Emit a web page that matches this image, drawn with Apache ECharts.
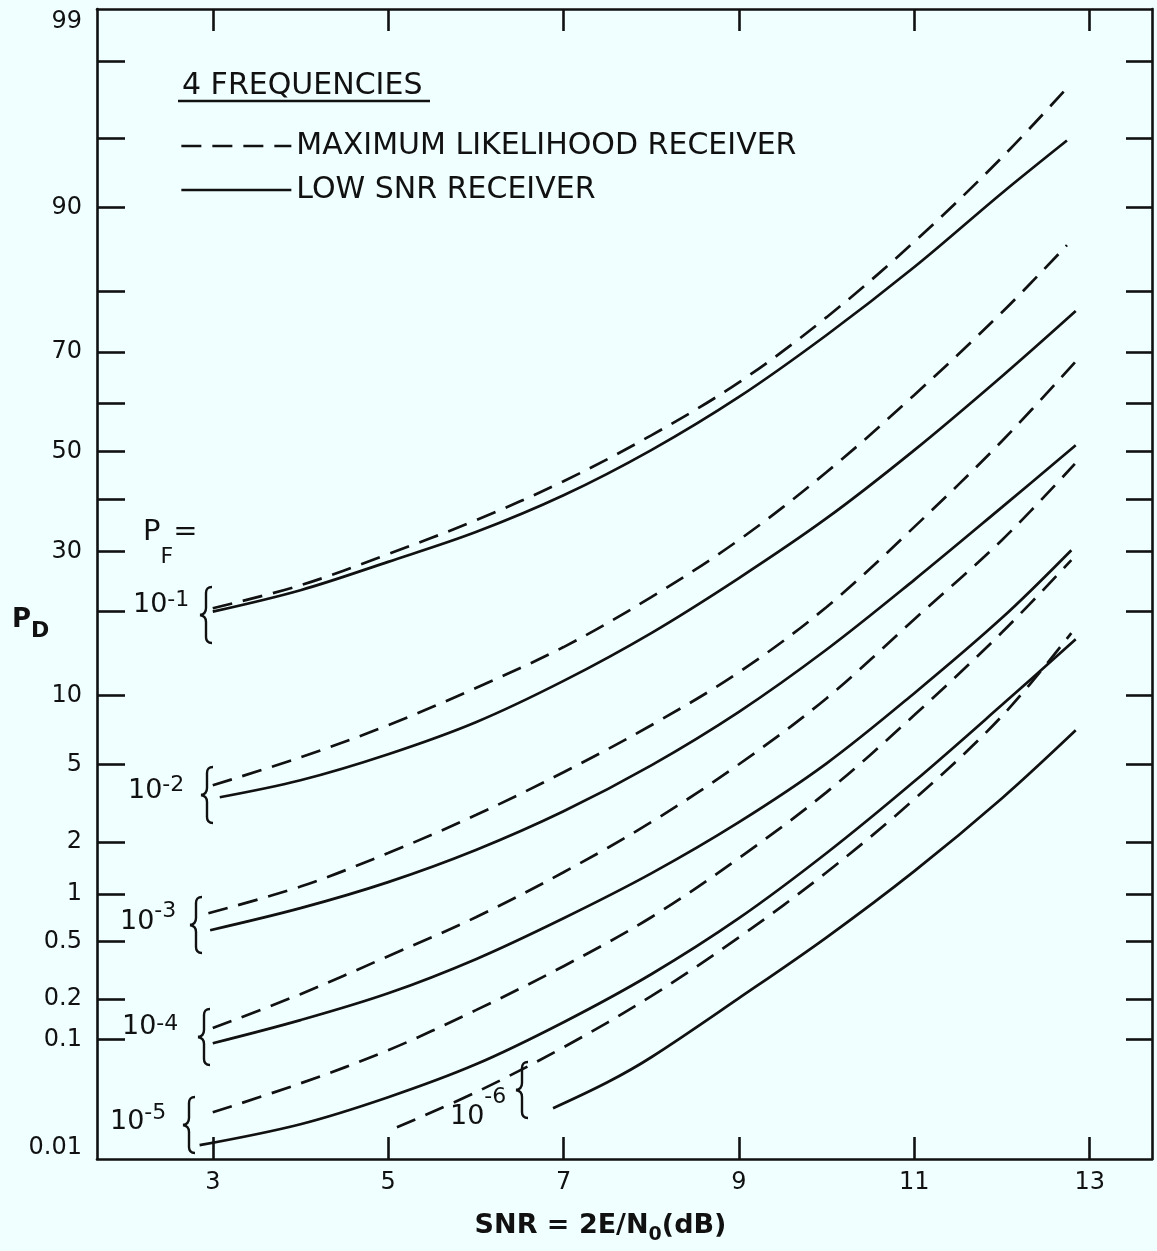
<!DOCTYPE html>
<html>
<head>
<meta charset="utf-8">
<script src="https://cdn.jsdelivr.net/npm/echarts@6/dist/echarts.min.js"></script>
<style>
html,body{margin:0;padding:0;background:#f0ffff;}
#chart{width:1157px;height:1251px;}
</style>
</head>
<body>
<div id="chart"></div>
<script>
// ---------- DATA (SNR in dB, PD in percent) ----------
// P_F = 10^-1
const snrML1 = [3, 4, 5, 6, 7, 8, 9, 10, 11, 12, 12.74];
const pdML1  = [20.5, 24.1, 29.5, 35.9, 43.8, 53.4, 64.2, 76.0, 86.5, 93.9, 97.2];
const snrLS1 = [3, 4, 5, 6, 7, 8, 9, 10, 11, 12, 12.74];
const pdLS1  = [20.0, 23.3, 28.1, 33.6, 40.9, 50.3, 61.3, 73.0, 83.4, 91.3, 94.9];
// P_F = 10^-2
const snrML2 = [3, 4, 5, 6, 7, 8, 9, 10, 11, 12, 12.74];
const pdML2  = [3.97, 5.40, 7.51, 10.7, 15.2, 22.2, 32.1, 45.7, 61.7, 76.8, 86.1];
const snrLS2 = [3.08, 4, 5, 6, 7, 8, 9, 10, 11, 12, 12.84];
const pdLS2  = [3.46, 4.20, 5.58, 7.74, 11.4, 17.0, 25.3, 36.3, 50.3, 65.4, 77.0];
// P_F = 10^-3
const snrML3 = [2.95, 4, 5, 6, 7, 8, 9, 10, 11, 12, 12.85];
const pdML3  = [0.761, 1.11, 1.74, 2.80, 4.59, 7.51, 12.3, 20.7, 34.6, 52.2, 68.4];
const snrLS3 = [2.97, 4, 5, 6, 7, 8, 9, 10, 11, 12, 12.84];
const pdLS3  = [0.593, 0.819, 1.18, 1.81, 2.93, 4.95, 8.56, 14.9, 25.0, 38.5, 51.3];
// P_F = 10^-4
const snrML4 = [3, 4, 5, 6, 7, 8, 9, 10, 11, 12, 12.83];
const pdML4  = [0.122, 0.217, 0.399, 0.718, 1.35, 2.57, 5.01, 9.74, 18.9, 32.1, 47.4];
const snrLS4 = [3, 4, 5, 6, 7, 8, 9, 10, 11, 12, 12.79];
const pdLS4  = [0.0934, 0.140, 0.220, 0.381, 0.708, 1.33, 2.57, 5.06, 10.2, 19.1, 30.2];
// P_F = 10^-5
const snrML5 = [3, 4, 5, 6, 7, 8, 9, 10, 11, 12, 12.79];
const pdML5  = [0.0257, 0.0448, 0.0824, 0.166, 0.341, 0.718, 1.63, 3.67, 8.30, 17.1, 28.4];
const snrLS5 = [2.85, 4, 5, 6, 7, 8, 9, 10, 11, 12, 12.84];
const pdLS5  = [0.0133, 0.0203, 0.0344, 0.0638, 0.135, 0.300, 0.708, 1.74, 4.15, 9.15, 16.2];
// P_F = 10^-6
const snrML6 = [5.1, 6, 7, 8, 9, 10, 11, 12, 12.79];
const pdML6  = [0.0191, 0.0378, 0.0869, 0.210, 0.533, 1.35, 3.38, 8.22, 17.0];
const snrLS6 = [6.88, 7.5, 8, 9, 10, 11, 12, 12.84];
const pdLS6  = [0.0278, 0.0457, 0.0726, 0.203, 0.533, 1.37, 3.42, 7.14];

// axis ticks
const xTicks = [3, 5, 7, 9, 11, 13];
const yTickLabels = [99, 90, 70, 50, 30, 10, 5, 2, 1, 0.5, 0.2, 0.1, 0.01];
const yMinorTicks = [98, 95, 80, 60, 40, 20];
const pfExponents = ['-1', '-2', '-3', '-4', '-5', '-6'];
const legendNames = ['MAXIMUM LIKELIHOOD RECEIVER', 'LOW SNR RECEIVER'];

// ---------- normal-probability scale (probit) ----------
function probit(p) {
  const a=[-3.969683028665376e+01,2.209460984245205e+02,-2.759285104469687e+02,1.383577518672690e+02,-3.066479806614716e+01,2.506628277459239e+00];
  const b=[-5.447609879822406e+01,1.615858368580409e+02,-1.556989798598866e+02,6.680131188771972e+01,-1.328068155288572e+01];
  const c=[-7.784894002430293e-03,-3.223964580411365e-01,-2.400758277161838e+00,-2.549671348243961e+00,4.374664141464968e+00,2.938163982698783e+00];
  const d=[7.784695709041462e-03,3.224671290700398e-01,2.445134137142996e+00,3.754408661907416e+00];
  const pl = 0.02425, ph = 1 - pl;
  let q, r;
  if (p < pl) { q = Math.sqrt(-2*Math.log(p)); return (((((c[0]*q+c[1])*q+c[2])*q+c[3])*q+c[4])*q+c[5])/((((d[0]*q+d[1])*q+d[2])*q+d[3])*q+1); }
  if (p <= ph) { q = p - 0.5; r = q*q; return (((((a[0]*r+a[1])*r+a[2])*r+a[3])*r+a[4])*r+a[5])*q/(((((b[0]*r+b[1])*r+b[2])*r+b[3])*r+b[4])*r+1); }
  q = Math.sqrt(-2*Math.log(1-p)); return -(((((c[0]*q+c[1])*q+c[2])*q+c[3])*q+c[4])*q+c[5])/((((d[0]*q+d[1])*q+d[2])*q+d[3])*q+1);
}
const zOf = pct => probit(pct / 100);
const yMin = zOf(0.01), yMax = zOf(99);

const FONT = 'DejaVu Sans';
const INK = '#111';

function lineSeries(name, xs, pds, dashed) {
  return {
    type: 'line', name,
    data: xs.map((x, i) => [x, zOf(pds[i])]),
    smooth: 0.35,
    symbol: 'none', showSymbol: false,
    lineStyle: { color: INK, width: 2.7, type: dashed ? [20, 11] : 'solid' },
    itemStyle: { color: INK },
    emphasis: { disabled: true }, silent: true, z: 3
  };
}
const ML = legendNames[0], LS = legendNames[1];
const series = [
  lineSeries(ML, snrML1, pdML1, true),  lineSeries(LS, snrLS1, pdLS1, false),
  lineSeries(ML, snrML2, pdML2, true),  lineSeries(LS, snrLS2, pdLS2, false),
  lineSeries(ML, snrML3, pdML3, true),  lineSeries(LS, snrLS3, pdLS3, false),
  lineSeries(ML, snrML4, pdML4, true),  lineSeries(LS, snrLS4, pdLS4, false),
  lineSeries(ML, snrML5, pdML5, true),  lineSeries(LS, snrLS5, pdLS5, false),
  lineSeries(ML, snrML6, pdML6, true),  lineSeries(LS, snrLS6, pdLS6, false)
];

const yTickValues = yTickLabels.filter(v => v !== 99 && v !== 0.01).concat(yMinorTicks).map(zOf);
const yLabelValues = yTickLabels.map(zOf);
function yFormatter(v) {
  let idx = 0, best = Infinity;
  yLabelValues.forEach((z, i) => { const dd = Math.abs(z - v); if (dd < best) { best = dd; idx = i; } });
  const L = yTickLabels[idx];
  if (L === 99) return '{t|99}';
  if (L === 0.01) return '{b|0.01}';
  return String(L);
}

const axisLineStyle = { color: INK, width: 2.6 };
const tickStyle = { color: INK, width: 2.6 };

// ---------- annotation layout ----------
const pfLayout = [
  { x: 133, top: 589,  p: 7.5,  bx: 206, by: 615 },
  { x: 128, top: 774,  p: 8.5,  bx: 207, by: 795 },
  { x: 120, top: 900,  p: 13.5, bx: 196, by: 925 },
  { x: 122, top: 1013, p: 4,    bx: 204, by: 1037 },
  { x: 110, top: 1102, p: 11.5, bx: 189, by: 1125 },
  { x: 450, top: 1086, p: 22.5, bx: 522, by: 1090 }
];
const braceStyle = { fill: 'none', stroke: INK, lineWidth: 2.4 };
function brace(cx, cy) {
  return { type: 'group', x: cx, y: cy, children: [
    { type: 'bezierCurve', shape: { x1: 6, y1: -28, cpx1: 0, cpy1: -28, x2: 0, y2: -22 }, style: braceStyle },
    { type: 'line', shape: { x1: 0, y1: -22, x2: 0, y2: -7 }, style: braceStyle },
    { type: 'bezierCurve', shape: { x1: 0, y1: -7, cpx1: 0, cpy1: -1, x2: -6, y2: 0 }, style: braceStyle },
    { type: 'bezierCurve', shape: { x1: -6, y1: 0, cpx1: 0, cpy1: 1, x2: 0, y2: 7 }, style: braceStyle },
    { type: 'line', shape: { x1: 0, y1: 7, x2: 0, y2: 22 }, style: braceStyle },
    { type: 'bezierCurve', shape: { x1: 0, y1: 22, cpx1: 0, cpy1: 28, x2: 6, y2: 28 }, style: braceStyle }
  ] };
}
const graphics = [
  { type: 'line', shape: { x1: 178, y1: 101, x2: 430, y2: 101 }, style: { stroke: INK, lineWidth: 2.5 } },
  { type: 'text', x: 143, y: 518, style: {
      text: '{b|P}{s|F}{b|=}', align: 'left', verticalAlign: 'top',
      rich: { b: { fontSize: 29, fontFamily: FONT, fill: INK, verticalAlign: 'top' },
              s: { fontSize: 22, fontFamily: FONT, fill: INK, padding: [28, 0, 0, 0] } } } },
  { type: 'text', x: 12, y: 607, style: {
      text: '{b|P}{s|D}', align: 'left', verticalAlign: 'top',
      rich: { b: { fontSize: 26, fontWeight: 'bold', fontFamily: FONT, fill: INK, verticalAlign: 'top' },
              s: { fontSize: 22, fontWeight: 'bold', fontFamily: FONT, fill: INK, padding: [13, 0, 0, 0] } } } }
];
pfLayout.forEach((L, i) => {
  graphics.push({ type: 'text', x: L.x, y: L.top, style: {
    text: '{b|10}{s|' + pfExponents[i] + '}', align: 'left', verticalAlign: 'top',
    rich: { b: { fontSize: 27, fontFamily: FONT, fill: INK, verticalAlign: 'bottom' },
            s: { fontSize: 22, fontFamily: FONT, fill: INK, padding: [0, 0, L.p, 0] } } } });
  graphics.push(brace(L.bx, L.by));
});

const chart = echarts.init(document.getElementById('chart'), null, { renderer: 'canvas' });
chart.setOption({
  backgroundColor: '#f0ffff',
  animation: false,
  textStyle: { fontFamily: FONT, color: INK },
  title: { text: '4 FREQUENCIES', left: 182, top: 71, padding: 0,
    textStyle: { fontSize: 30, fontWeight: 'normal', fontFamily: FONT, color: INK } },
  legend: {
    data: legendNames, orient: 'vertical', left: 180, top: 131, padding: 0,
    itemWidth: 110, itemHeight: 14, itemGap: 14, selectedMode: false,
    lineStyle: { width: 2.7 },
    itemStyle: { opacity: 0, color: 'rgba(0,0,0,0)', borderWidth: 0 },
    textStyle: { fontSize: 30, fontFamily: FONT, color: INK }
  },
  grid: { left: 97, right: 5, top: 9, bottom: 92, containLabel: false },
  xAxis: [
    { type: 'value', position: 'bottom', min: 1.68, max: 13.71,
      axisLine: { onZero: false, lineStyle: axisLineStyle },
      axisTick: { inside: true, length: 22, customValues: xTicks, lineStyle: tickStyle },
      axisLabel: { customValues: xTicks, margin: 12, fontSize: 24, fontFamily: FONT, color: INK },
      splitLine: { show: false },
      name: '{a|SNR = 2E/N}{s|0}{a|(dB)}', nameLocation: 'middle', nameGap: 53,
      nameTextStyle: { padding: [0, 48, 0, 0],
        rich: { a: { fontSize: 27, fontWeight: 'bold', fontFamily: FONT, color: INK, verticalAlign: 'top' },
                s: { fontSize: 19, fontWeight: 'bold', fontFamily: FONT, color: INK, padding: [14, 0, 0, 0] } } } },
    { type: 'value', position: 'top', min: 1.68, max: 13.71,
      axisLine: { onZero: false, lineStyle: axisLineStyle },
      axisTick: { inside: true, length: 22, customValues: xTicks, lineStyle: tickStyle },
      axisLabel: { show: false }, splitLine: { show: false } }
  ],
  yAxis: [
    { type: 'value', position: 'left', min: yMin, max: yMax,
      axisLine: { onZero: false, lineStyle: axisLineStyle },
      axisTick: { inside: true, length: 28, customValues: yTickValues, lineStyle: tickStyle },
      axisLabel: { customValues: yLabelValues, margin: 15, fontSize: 24, fontFamily: FONT, color: INK,
        formatter: yFormatter,
        rich: { t: { fontSize: 24, fontFamily: FONT, color: INK, padding: [26, 0, 0, 0] },
                b: { fontSize: 24, fontFamily: FONT, color: INK, padding: [0, 0, 22, 0] } } },
      splitLine: { show: false } },
    { type: 'value', position: 'right', min: yMin, max: yMax,
      axisLine: { onZero: false, lineStyle: axisLineStyle },
      axisTick: { inside: true, length: 26, customValues: yTickValues, lineStyle: tickStyle },
      axisLabel: { show: false }, splitLine: { show: false } }
  ],
  graphic: graphics,
  series: series
});
</script>
</body>
</html>
